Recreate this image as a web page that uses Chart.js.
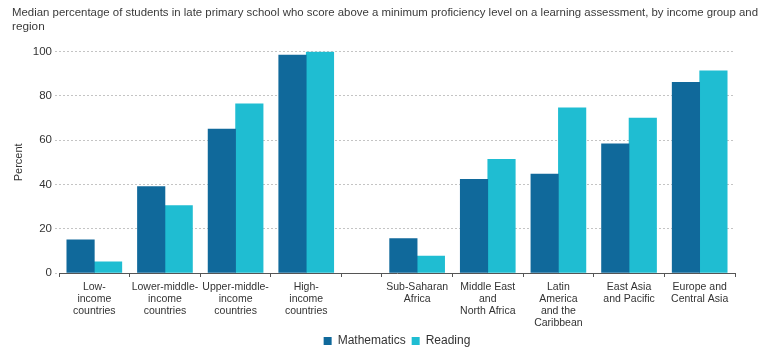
<!DOCTYPE html>
<html>
<head>
<meta charset="utf-8">
<script src="https://cdn.jsdelivr.net/npm/chart.js@4"></script>
<style>
	html, body { margin: 0; padding: 0; background: #fff; }
	#wrap { width: 768px; height: 362px; }
</style>
</head>
<body>
<div id="wrap"><canvas id="myChart"></canvas></div>
<script>
const categories = [
	['Low-', 'income', 'countries'],
	['Lower-middle-', 'income', 'countries'],
	['Upper-middle-', 'income', 'countries'],
	['High-', 'income', 'countries'],
	['Sub-Saharan', 'Africa'],
	['Middle East', 'and', 'North Africa'],
	['Latin', 'America', 'and the', 'Caribbean'],
	['East Asia', 'and Pacific'],
	['Europe and', 'Central Asia'],
]
const mathematics = [15, 39, 65, 98.5, 15.5, 42.3, 44.7, 58.4, 86.2]
const reading = [5, 30.5, 76.5, 100, 7.7, 51.4, 74.6, 70, 91.3]
const yTicks = [0, 20, 40, 60, 80, 100]

// the chart leaves an empty slot between income groups and regions
const groupBreak = 4
const gapWidth = 0.57

const slotStart = (i) => i + (i >= groupBreak ? gapWidth : 0)
const centers = categories.map((c, i) => slotStart(i) + 0.5)
const boundaries = [0]
categories.forEach((c, i) => {
	if (i === groupBreak) boundaries.push(slotStart(i))
	boundaries.push(slotStart(i) + 1)
})
const xMax = boundaries[boundaries.length - 1]

const labelAt = new Map(centers.map((v, i) => [v.toFixed(3), categories[i]]))
const isCenter = (v) => labelAt.has(Number(v).toFixed(3))

const font = "'Liberation Sans', Arial, sans-serif"
const textColor = '#333'

const ctx = document.getElementById('myChart')

new Chart(ctx, {
	type: 'bar',
	data: {
		datasets: [
			{
				label: 'Mathematics',
				data: mathematics.map((v, i) => ({ x: centers[i], y: v })),
				backgroundColor: '#10699b',
				barThickness: 27.5,
			},
			{
				label: 'Reading',
				data: reading.map((v, i) => ({ x: centers[i], y: v })),
				backgroundColor: '#1fbdd2',
				barThickness: 27.5,
			},
		],
	},
	options: {
		responsive: true,
		maintainAspectRatio: false,
		animation: false,
		layout: {
			padding: { left: 12, right: 10, top: 0, bottom: 5 },
		},
		plugins: {
			title: {
				display: true,
				text: [
					'Median percentage of students in late primary school who score above a minimum proficiency level on a learning assessment, by income group and',
					'region',
				],
				align: 'start',
				color: '#3a3a3a',
				font: { family: font, size: 11.75, weight: 'normal', lineHeight: 1.2 },
				padding: { top: 6, bottom: 17.5 },
			},
			legend: {
				position: 'bottom',
				fullSize: false,
				labels: {
					boxWidth: 8,
					boxHeight: 8,
					padding: 6,
					color: textColor,
					font: { family: font, size: 12 },
				},
			},
			tooltip: { enabled: false },
		},
		scales: {
			x: {
				type: 'linear',
				min: 0,
				max: xMax,
				offset: false,
				afterBuildTicks: (scale) => {
					const all = boundaries.concat(centers).sort((a, b) => a - b)
					scale.ticks = all.map((v) => ({ value: v }))
				},
				afterFit: (scale) => {
					scale.height = 56
				},
				border: { display: true, color: '#555', width: 1 },
				grid: {
					offset: false,
					drawOnChartArea: false,
					drawTicks: true,
					tickLength: 4,
					tickColor: (c) => (c.tick && isCenter(c.tick.value) ? 'rgba(0,0,0,0)' : '#555'),
				},
				ticks: {
					autoSkip: false,
					maxRotation: 0,
					minRotation: 0,
					padding: 4,
					color: textColor,
					font: { family: font, size: 10.5, lineHeight: 1.15 },
					callback: (value) => labelAt.get(Number(value).toFixed(3)) || '',
				},
			},
			y: {
				min: 0,
				max: 100,
				afterBuildTicks: (scale) => {
					scale.ticks = yTicks.map((v) => ({ value: v }))
				},
				afterFit: (scale) => {
					scale.width = 47
				},
				border: { display: false, dash: [2, 2] },
				grid: {
					color: '#c4c4c4',
					lineWidth: 1,
					tickBorderDash: [2, 2],
					tickLength: 4,
					tickColor: '#c4c4c4',
				},
				ticks: {
					padding: 3,
					color: textColor,
					font: { family: font, size: 11.5 },
				},
				title: {
					display: true,
					text: 'Percent',
					color: textColor,
					font: { family: font, size: 11 },
					padding: { top: 0, bottom: 0 },
				},
			},
			// empty right-hand margin so the plot stops short of the title's width
			yRight: {
				position: 'right',
				display: true,
				grid: { display: false },
				border: { display: false },
				ticks: { display: false },
				afterFit: (scale) => {
					scale.width = 23
				},
			},
		},
	},
})
</script>
</body>
</html>
